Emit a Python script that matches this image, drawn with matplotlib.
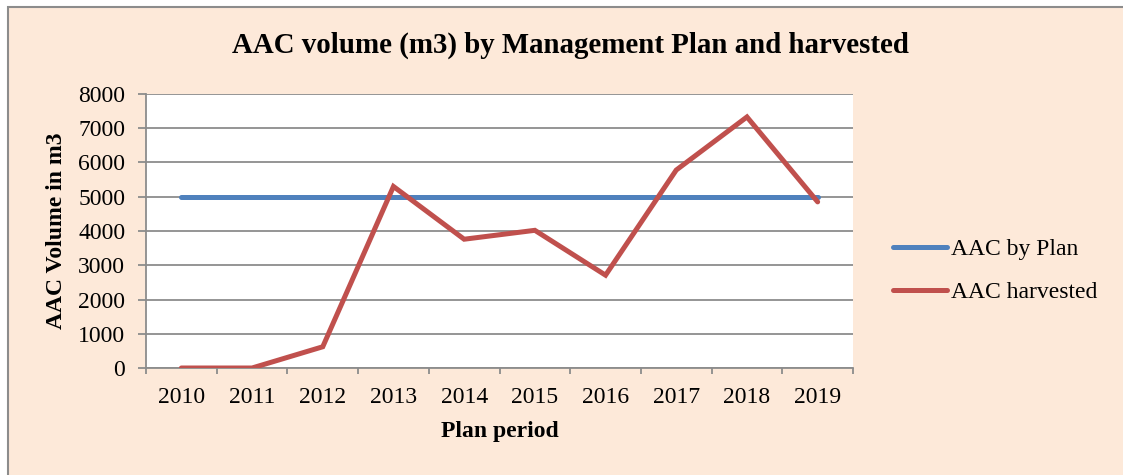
import matplotlib
matplotlib.use("Agg")
import matplotlib.pyplot as plt
from matplotlib.patches import Rectangle
import numpy as np

# data
years = ["2010", "2011", "2012", "2013", "2014", "2015", "2016", "2017", "2018", "2019"]
aac_plan = [5000, 5000, 5000, 5000, 5000, 5000, 5000, 5000, 5000, 5000]
aac_harvested = [0, 0, 620, 5300, 3760, 4020, 2710, 5780, 7330, 4850]

W, H = 1123, 475
plt.rcParams["font.family"] = ["Liberation Serif", "DejaVu Serif"]
fig = plt.figure(figsize=(W / 100, H / 100), dpi=100)
fig.patch.set_facecolor("white")

# chart area frame (peach background, grey border)
fig.patches.append(Rectangle((8 / W, -0.1), 1.2, 1.1 - 7 / H, transform=fig.transFigure,
                             facecolor="#FDE9D9", edgecolor="#8C8C8C", lw=1.5, zorder=-10))

ax = fig.add_axes([146 / W, (H - 368) / H, (853 - 146) / W, (368 - 94) / H])
ax.set_facecolor("white")

x = np.arange(len(years))
ax.plot(x, aac_plan, color="#4F81BD", lw=3.6, solid_capstyle="round", label="AAC by Plan", zorder=3)
ax.plot(x, aac_harvested, color="#C0504D", lw=3.6, solid_capstyle="round",
        solid_joinstyle="miter", label="AAC harvested", zorder=4)

ax.set_xlim(-0.5, len(years) - 0.5)
ax.set_ylim(0, 8000)
ax.set_yticks(np.arange(0, 8001, 1000))
ax.yaxis.grid(True, color="#8C8C8C", lw=1.3)
ax.set_axisbelow(True)

# category boundaries get tick marks, labels sit in the middle
ax.set_xticks(np.arange(-0.5, len(years), 1.0))
ax.set_xticklabels([])
ax.set_xticks(x, minor=True)
ax.set_xticklabels(years, minor=True)
ax.tick_params(axis="x", which="major", length=4, width=1.3, color="#8C8C8C", direction="out")
ax.tick_params(axis="x", which="minor", length=0, labelsize=17, pad=13.5)
ax.tick_params(axis="y", length=6, width=1.3, color="#8C8C8C", labelsize=17, pad=9)

for s in ["top", "right"]:
    ax.spines[s].set_visible(False)
for s in ["left", "bottom"]:
    ax.spines[s].set_color("#8C8C8C")
    ax.spines[s].set_linewidth(1.3)

fig.text(570 / W, 1 - 45 / H, "AAC volume (m3) by Management Plan and harvested",
         ha="center", va="center", fontsize=20.8, fontweight="bold")
fig.text(57 / W, 1 - 231 / H, "AAC Volume in m3", rotation=90,
         ha="center", va="center", fontsize=17, fontweight="bold")
fig.text(500 / W, 1 - 432 / H, "Plan period", ha="center", va="center",
         fontsize=17, fontweight="bold")

fig.legend(loc="center left", bbox_to_anchor=(893 / W, 1 - 271 / H), frameon=False,
           fontsize=17, handlelength=2.3, handletextpad=0.17, labelspacing=0.92,
           borderaxespad=0, borderpad=0)

fig.savefig("out.png", dpi=100)
